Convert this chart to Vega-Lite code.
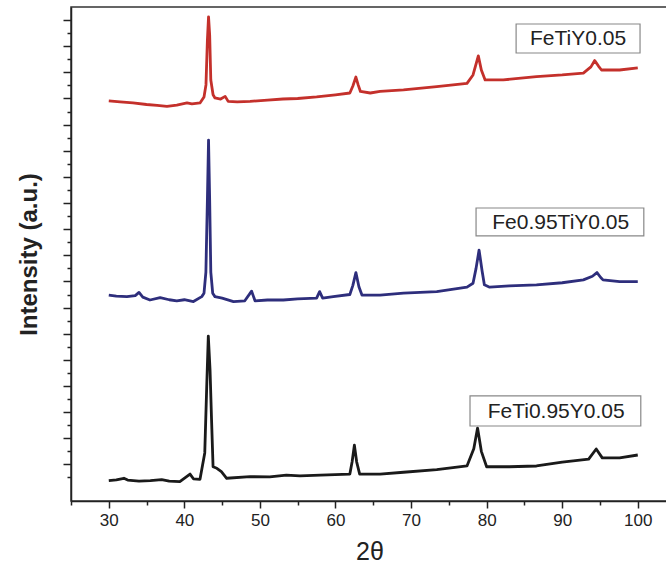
{
  "$schema": "https://vega.github.io/schema/vega-lite/v6.json",
  "width": 597,
  "height": 494,
  "autosize": {"type": "none"},
  "padding": {"left": 71, "top": 7, "right": 0, "bottom": 80},
  "background": "white",
  "config": {
    "view": {"stroke": "#333", "strokeWidth": 1.5},
    "font": "Liberation Sans"
  },
  "datasets": {
    "boxes": [
      {"label": "FeTiY0.05", "x1": 83.9, "x2": 100.3, "y1": 1735, "y2": 1624, "tx": 92.1, "ty": 1676},
      {"label": "Fe0.95TiY0.05", "x1": 78.6, "x2": 100.8, "y1": 1031, "y2": 924, "tx": 89.8, "ty": 974},
      {"label": "FeTi0.95Y0.05", "x1": 77.8, "x2": 100.4, "y1": 312, "y2": 197, "tx": 89.2, "ty": 252}
    ]
  },
  "data": {
    "values": [
      {"sample": "FeTiY0.05", "two_theta": 30.0, "intensity": 1441},
      {"sample": "FeTiY0.05", "two_theta": 31.5, "intensity": 1437},
      {"sample": "FeTiY0.05", "two_theta": 33.2, "intensity": 1433},
      {"sample": "FeTiY0.05", "two_theta": 35.0, "intensity": 1427},
      {"sample": "FeTiY0.05", "two_theta": 36.4, "intensity": 1424},
      {"sample": "FeTiY0.05", "two_theta": 37.7, "intensity": 1420},
      {"sample": "FeTiY0.05", "two_theta": 39.0, "intensity": 1425},
      {"sample": "FeTiY0.05", "two_theta": 40.35, "intensity": 1433},
      {"sample": "FeTiY0.05", "two_theta": 41.0, "intensity": 1429},
      {"sample": "FeTiY0.05", "two_theta": 42.07, "intensity": 1433},
      {"sample": "FeTiY0.05", "two_theta": 42.6, "intensity": 1456},
      {"sample": "FeTiY0.05", "two_theta": 42.86, "intensity": 1502},
      {"sample": "FeTiY0.05", "two_theta": 43.05, "intensity": 1674},
      {"sample": "FeTiY0.05", "two_theta": 43.2, "intensity": 1762},
      {"sample": "FeTiY0.05", "two_theta": 43.35, "intensity": 1693},
      {"sample": "FeTiY0.05", "two_theta": 43.5, "intensity": 1521},
      {"sample": "FeTiY0.05", "two_theta": 43.8, "intensity": 1464},
      {"sample": "FeTiY0.05", "two_theta": 44.05, "intensity": 1452},
      {"sample": "FeTiY0.05", "two_theta": 44.8, "intensity": 1448},
      {"sample": "FeTiY0.05", "two_theta": 45.4, "intensity": 1458},
      {"sample": "FeTiY0.05", "two_theta": 45.8, "intensity": 1439},
      {"sample": "FeTiY0.05", "two_theta": 47.0, "intensity": 1437},
      {"sample": "FeTiY0.05", "two_theta": 48.7, "intensity": 1439},
      {"sample": "FeTiY0.05", "two_theta": 51.0, "intensity": 1444},
      {"sample": "FeTiY0.05", "two_theta": 53.05, "intensity": 1448},
      {"sample": "FeTiY0.05", "two_theta": 55.0, "intensity": 1450},
      {"sample": "FeTiY0.05", "two_theta": 57.5, "intensity": 1456},
      {"sample": "FeTiY0.05", "two_theta": 60.0, "intensity": 1464},
      {"sample": "FeTiY0.05", "two_theta": 61.9, "intensity": 1471},
      {"sample": "FeTiY0.05", "two_theta": 62.3, "intensity": 1498},
      {"sample": "FeTiY0.05", "two_theta": 62.7, "intensity": 1532},
      {"sample": "FeTiY0.05", "two_theta": 63.0, "intensity": 1502},
      {"sample": "FeTiY0.05", "two_theta": 63.3, "intensity": 1477},
      {"sample": "FeTiY0.05", "two_theta": 64.6, "intensity": 1471},
      {"sample": "FeTiY0.05", "two_theta": 65.9, "intensity": 1477},
      {"sample": "FeTiY0.05", "two_theta": 69.0, "intensity": 1483},
      {"sample": "FeTiY0.05", "two_theta": 73.4, "intensity": 1495},
      {"sample": "FeTiY0.05", "two_theta": 77.4, "intensity": 1508},
      {"sample": "FeTiY0.05", "two_theta": 78.2, "intensity": 1540},
      {"sample": "FeTiY0.05", "two_theta": 78.9, "intensity": 1613},
      {"sample": "FeTiY0.05", "two_theta": 79.3, "intensity": 1559},
      {"sample": "FeTiY0.05", "two_theta": 79.8, "intensity": 1521},
      {"sample": "FeTiY0.05", "two_theta": 82.2, "intensity": 1521},
      {"sample": "FeTiY0.05", "two_theta": 86.6, "intensity": 1534},
      {"sample": "FeTiY0.05", "two_theta": 90.0, "intensity": 1540},
      {"sample": "FeTiY0.05", "two_theta": 92.8, "intensity": 1547},
      {"sample": "FeTiY0.05", "two_theta": 93.8, "intensity": 1571},
      {"sample": "FeTiY0.05", "two_theta": 94.3, "intensity": 1595},
      {"sample": "FeTiY0.05", "two_theta": 94.8, "intensity": 1574},
      {"sample": "FeTiY0.05", "two_theta": 95.2, "intensity": 1559},
      {"sample": "FeTiY0.05", "two_theta": 97.6, "intensity": 1559},
      {"sample": "FeTiY0.05", "two_theta": 100.0, "intensity": 1567},

      {"sample": "Fe0.95TiY0.05", "two_theta": 30.0, "intensity": 698},
      {"sample": "Fe0.95TiY0.05", "two_theta": 31.0, "intensity": 694},
      {"sample": "Fe0.95TiY0.05", "two_theta": 32.4, "intensity": 692},
      {"sample": "Fe0.95TiY0.05", "two_theta": 33.5, "intensity": 696},
      {"sample": "Fe0.95TiY0.05", "two_theta": 34.0, "intensity": 708},
      {"sample": "Fe0.95TiY0.05", "two_theta": 34.5, "intensity": 690},
      {"sample": "Fe0.95TiY0.05", "two_theta": 35.45, "intensity": 679},
      {"sample": "Fe0.95TiY0.05", "two_theta": 36.8, "intensity": 688},
      {"sample": "Fe0.95TiY0.05", "two_theta": 38.0, "intensity": 680},
      {"sample": "Fe0.95TiY0.05", "two_theta": 39.0, "intensity": 676},
      {"sample": "Fe0.95TiY0.05", "two_theta": 40.0, "intensity": 680},
      {"sample": "Fe0.95TiY0.05", "two_theta": 41.2, "intensity": 673},
      {"sample": "Fe0.95TiY0.05", "two_theta": 42.3, "intensity": 692},
      {"sample": "Fe0.95TiY0.05", "two_theta": 42.6, "intensity": 705},
      {"sample": "Fe0.95TiY0.05", "two_theta": 42.85, "intensity": 786},
      {"sample": "Fe0.95TiY0.05", "two_theta": 43.05, "intensity": 1062},
      {"sample": "Fe0.95TiY0.05", "two_theta": 43.2, "intensity": 1291},
      {"sample": "Fe0.95TiY0.05", "two_theta": 43.35, "intensity": 1062},
      {"sample": "Fe0.95TiY0.05", "two_theta": 43.5, "intensity": 786},
      {"sample": "Fe0.95TiY0.05", "two_theta": 43.75, "intensity": 705},
      {"sample": "Fe0.95TiY0.05", "two_theta": 44.05, "intensity": 692},
      {"sample": "Fe0.95TiY0.05", "two_theta": 45.0, "intensity": 686},
      {"sample": "Fe0.95TiY0.05", "two_theta": 46.5, "intensity": 673},
      {"sample": "Fe0.95TiY0.05", "two_theta": 48.0, "intensity": 676},
      {"sample": "Fe0.95TiY0.05", "two_theta": 48.9, "intensity": 713},
      {"sample": "Fe0.95TiY0.05", "two_theta": 49.35, "intensity": 676},
      {"sample": "Fe0.95TiY0.05", "two_theta": 51.0, "intensity": 679},
      {"sample": "Fe0.95TiY0.05", "two_theta": 53.1, "intensity": 679},
      {"sample": "Fe0.95TiY0.05", "two_theta": 55.0, "intensity": 683},
      {"sample": "Fe0.95TiY0.05", "two_theta": 57.5, "intensity": 686},
      {"sample": "Fe0.95TiY0.05", "two_theta": 57.9, "intensity": 711},
      {"sample": "Fe0.95TiY0.05", "two_theta": 58.3, "intensity": 686},
      {"sample": "Fe0.95TiY0.05", "two_theta": 59.7, "intensity": 692},
      {"sample": "Fe0.95TiY0.05", "two_theta": 61.9, "intensity": 700},
      {"sample": "Fe0.95TiY0.05", "two_theta": 62.3, "intensity": 735},
      {"sample": "Fe0.95TiY0.05", "two_theta": 62.7, "intensity": 784},
      {"sample": "Fe0.95TiY0.05", "two_theta": 63.1, "intensity": 730},
      {"sample": "Fe0.95TiY0.05", "two_theta": 63.5, "intensity": 698},
      {"sample": "Fe0.95TiY0.05", "two_theta": 65.9, "intensity": 698},
      {"sample": "Fe0.95TiY0.05", "two_theta": 69.0, "intensity": 705},
      {"sample": "Fe0.95TiY0.05", "two_theta": 73.4, "intensity": 711},
      {"sample": "Fe0.95TiY0.05", "two_theta": 77.4, "intensity": 728},
      {"sample": "Fe0.95TiY0.05", "two_theta": 78.2, "intensity": 743},
      {"sample": "Fe0.95TiY0.05", "two_theta": 78.6, "intensity": 800},
      {"sample": "Fe0.95TiY0.05", "two_theta": 79.0, "intensity": 870},
      {"sample": "Fe0.95TiY0.05", "two_theta": 79.4, "intensity": 790},
      {"sample": "Fe0.95TiY0.05", "two_theta": 79.7, "intensity": 737},
      {"sample": "Fe0.95TiY0.05", "two_theta": 80.4, "intensity": 728},
      {"sample": "Fe0.95TiY0.05", "two_theta": 83.0, "intensity": 733},
      {"sample": "Fe0.95TiY0.05", "two_theta": 86.6, "intensity": 737},
      {"sample": "Fe0.95TiY0.05", "two_theta": 90.0, "intensity": 745},
      {"sample": "Fe0.95TiY0.05", "two_theta": 92.8, "intensity": 756},
      {"sample": "Fe0.95TiY0.05", "two_theta": 94.0, "intensity": 770},
      {"sample": "Fe0.95TiY0.05", "two_theta": 94.6, "intensity": 784},
      {"sample": "Fe0.95TiY0.05", "two_theta": 95.1, "intensity": 765},
      {"sample": "Fe0.95TiY0.05", "two_theta": 95.4, "intensity": 756},
      {"sample": "Fe0.95TiY0.05", "two_theta": 97.6, "intensity": 749},
      {"sample": "Fe0.95TiY0.05", "two_theta": 100.0, "intensity": 749},

      {"sample": "FeTi0.95Y0.05", "two_theta": 30.0, "intensity": -12},
      {"sample": "FeTi0.95Y0.05", "two_theta": 31.0, "intensity": -9},
      {"sample": "FeTi0.95Y0.05", "two_theta": 32.0, "intensity": -3},
      {"sample": "FeTi0.95Y0.05", "two_theta": 32.5, "intensity": -10},
      {"sample": "FeTi0.95Y0.05", "two_theta": 34.0, "intensity": -14},
      {"sample": "FeTi0.95Y0.05", "two_theta": 35.5, "intensity": -12},
      {"sample": "FeTi0.95Y0.05", "two_theta": 37.0, "intensity": -8},
      {"sample": "FeTi0.95Y0.05", "two_theta": 38.0, "intensity": -14},
      {"sample": "FeTi0.95Y0.05", "two_theta": 39.4, "intensity": -16},
      {"sample": "FeTi0.95Y0.05", "two_theta": 40.75, "intensity": 13},
      {"sample": "FeTi0.95Y0.05", "two_theta": 41.2, "intensity": -5},
      {"sample": "FeTi0.95Y0.05", "two_theta": 42.07, "intensity": -7},
      {"sample": "FeTi0.95Y0.05", "two_theta": 42.7, "intensity": 94},
      {"sample": "FeTi0.95Y0.05", "two_theta": 42.96, "intensity": 348},
      {"sample": "FeTi0.95Y0.05", "two_theta": 43.17, "intensity": 541},
      {"sample": "FeTi0.95Y0.05", "two_theta": 43.4, "intensity": 411},
      {"sample": "FeTi0.95Y0.05", "two_theta": 43.6, "intensity": 220},
      {"sample": "FeTi0.95Y0.05", "two_theta": 43.8, "intensity": 41},
      {"sample": "FeTi0.95Y0.05", "two_theta": 44.3, "intensity": 35},
      {"sample": "FeTi0.95Y0.05", "two_theta": 44.9, "intensity": 22},
      {"sample": "FeTi0.95Y0.05", "two_theta": 45.6, "intensity": -3},
      {"sample": "FeTi0.95Y0.05", "two_theta": 48.7, "intensity": 3},
      {"sample": "FeTi0.95Y0.05", "two_theta": 51.3, "intensity": 2},
      {"sample": "FeTi0.95Y0.05", "two_theta": 53.5, "intensity": 9},
      {"sample": "FeTi0.95Y0.05", "two_theta": 55.3, "intensity": 6},
      {"sample": "FeTi0.95Y0.05", "two_theta": 58.0, "intensity": 9},
      {"sample": "FeTi0.95Y0.05", "two_theta": 61.9, "intensity": 13},
      {"sample": "FeTi0.95Y0.05", "two_theta": 62.2, "intensity": 60},
      {"sample": "FeTi0.95Y0.05", "two_theta": 62.5, "intensity": 124},
      {"sample": "FeTi0.95Y0.05", "two_theta": 62.8, "intensity": 60},
      {"sample": "FeTi0.95Y0.05", "two_theta": 63.2, "intensity": 13},
      {"sample": "FeTi0.95Y0.05", "two_theta": 65.9, "intensity": 13},
      {"sample": "FeTi0.95Y0.05", "two_theta": 69.0, "intensity": 20},
      {"sample": "FeTi0.95Y0.05", "two_theta": 73.4, "intensity": 30},
      {"sample": "FeTi0.95Y0.05", "two_theta": 77.4, "intensity": 44},
      {"sample": "FeTi0.95Y0.05", "two_theta": 78.3, "intensity": 110},
      {"sample": "FeTi0.95Y0.05", "two_theta": 78.8, "intensity": 189},
      {"sample": "FeTi0.95Y0.05", "two_theta": 79.3, "intensity": 100},
      {"sample": "FeTi0.95Y0.05", "two_theta": 80.0, "intensity": 41},
      {"sample": "FeTi0.95Y0.05", "two_theta": 83.0, "intensity": 41},
      {"sample": "FeTi0.95Y0.05", "two_theta": 86.6, "intensity": 44},
      {"sample": "FeTi0.95Y0.05", "two_theta": 90.0, "intensity": 59},
      {"sample": "FeTi0.95Y0.05", "two_theta": 93.5, "intensity": 70},
      {"sample": "FeTi0.95Y0.05", "two_theta": 94.5, "intensity": 109},
      {"sample": "FeTi0.95Y0.05", "two_theta": 95.3, "intensity": 75},
      {"sample": "FeTi0.95Y0.05", "two_theta": 97.6, "intensity": 75},
      {"sample": "FeTi0.95Y0.05", "two_theta": 100.0, "intensity": 86}
    ]
  },
  "encoding": {
    "x": {
      "field": "two_theta",
      "type": "quantitative",
      "scale": {"domain": [25, 104], "nice": false, "zero": false},
      "axis": {
        "title": "2θ",
        "values": [25, 30, 35, 40, 45, 50, 55, 60, 65, 70, 75, 80, 85, 90, 95, 100],
        "labelExpr": "datum.value % 10 === 0 ? datum.label : ''",
        "tickSize": {"condition": {"test": "datum.value % 10 === 0", "value": 7}, "value": 4},
        "grid": false,
        "domainColor": "#222",
        "domainWidth": 1.5,
        "tickColor": "#222",
        "tickWidth": 1.5,
        "labelFont": "Liberation Sans",
        "labelFontSize": 17,
        "labelColor": "#222",
        "labelPadding": 4,
        "labelFlush": false,
        "labelOverlap": false,
        "titleFont": "Liberation Sans",
        "titleFontSize": 25,
        "titleFontWeight": "normal",
        "titleColor": "#222",
        "titlePadding": 11
      }
    },
    "y": {
      "field": "intensity",
      "type": "quantitative",
      "scale": {"domain": [-90, 1800], "nice": false, "zero": false},
      "axis": {
        "title": "Intensity (a.u.)",
        "values": [0, 50, 100, 150, 200, 250, 300, 350, 400, 450, 500, 550, 600, 650, 700, 750, 800, 850, 900, 950, 1000, 1050, 1100, 1150, 1200, 1250, 1300, 1350, 1400, 1450, 1500, 1550, 1600, 1650, 1700, 1750],
        "labels": false,
        "tickSize": {"condition": {"test": "datum.value % 100 === 50", "value": 8}, "value": 4},
        "grid": false,
        "domainColor": "#222",
        "domainWidth": 1.5,
        "tickColor": "#222",
        "tickWidth": 1.5,
        "titleFont": "Liberation Sans",
        "titleFontSize": 24,
        "titleFontWeight": "bold",
        "titleColor": "#222",
        "titlePadding": 21
      }
    }
  },
  "layer": [
    {
      "mark": {"type": "line", "strokeWidth": 2.8, "strokeJoin": "round", "clip": true},
      "encoding": {
        "color": {
          "field": "sample",
          "type": "nominal",
          "scale": {"domain": ["FeTiY0.05", "Fe0.95TiY0.05", "FeTi0.95Y0.05"], "range": ["#c4302b", "#2e2e7c", "#1a1a1a"]},
          "legend": null
        }
      }
    },
    {
      "data": {"name": "boxes"},
      "mark": {"type": "rect", "fill": "white", "fillOpacity": 0, "stroke": "#888", "strokeWidth": 1.2},
      "encoding": {
        "x": {"field": "x1", "type": "quantitative"},
        "x2": {"field": "x2"},
        "y": {"field": "y1", "type": "quantitative"},
        "y2": {"field": "y2"}
      }
    },
    {
      "data": {"name": "boxes"},
      "mark": {"type": "text", "font": "Liberation Sans", "fontSize": 21, "color": "#222", "align": "center", "baseline": "middle"},
      "encoding": {
        "x": {"field": "tx", "type": "quantitative"},
        "y": {"field": "ty", "type": "quantitative"},
        "text": {"field": "label"}
      }
    }
  ]
}
